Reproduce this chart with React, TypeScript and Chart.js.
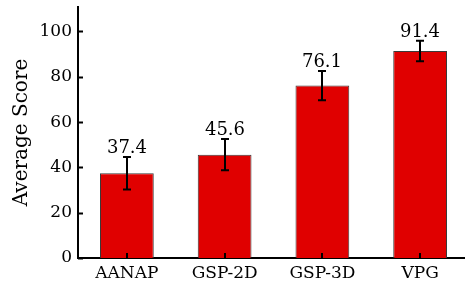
import React, { useEffect, useRef } from "react";
import { Chart, registerables } from "chart.js";

Chart.register(...registerables);

const categories = ["AANAP", "GSP-2D", "GSP-3D", "VPG"];
const scores = [37.4, 45.6, 76.1, 91.4];
const errors = [7.2, 6.9, 6.5, 4.5];
const yTicks = [0, 20, 40, 60, 80, 100];
const yMax = 110.8;

const FONT = "'DejaVu Serif', serif";

const overlay = {
  id: "overlay",
  afterDatasetsDraw(chart: any) {
    const ctx = chart.ctx;
    const xs = chart.scales.x;
    const ys = chart.scales.y;
    const area = chart.chartArea;
    ctx.save();
    // inward tick marks
    ctx.strokeStyle = "#000";
    ctx.lineWidth = 2;
    ctx.beginPath();
    yTicks.forEach((v) => {
      const py = Math.round(ys.getPixelForValue(v)) + 0.5;
      ctx.moveTo(area.left, py);
      ctx.lineTo(area.left + 5, py);
    });
    categories.forEach((_, i) => {
      const px = Math.round(xs.getPixelForValue(i));
      ctx.moveTo(px, area.bottom);
      ctx.lineTo(px, area.bottom - 5);
    });
    ctx.stroke();
    // error bars and value labels
    const meta = chart.getDatasetMeta(0);
    ctx.font = "18px " + FONT;
    ctx.fillStyle = "#000";
    ctx.textAlign = "center";
    ctx.textBaseline = "alphabetic";
    scores.forEach((v, i) => {
      const px = Math.round(meta.data[i].x);
      const top = ys.getPixelForValue(v + errors[i]);
      const bot = ys.getPixelForValue(v - errors[i]);
      ctx.beginPath();
      ctx.lineWidth = 2;
      ctx.moveTo(px, top);
      ctx.lineTo(px, bot);
      ctx.moveTo(px - 4, top);
      ctx.lineTo(px + 4, top);
      ctx.moveTo(px - 4, bot);
      ctx.lineTo(px + 4, bot);
      ctx.stroke();
      ctx.fillText(v.toFixed(1), px, top - 4);
    });
    ctx.restore();
  },
};

export default function App() {
  const ref = useRef<HTMLCanvasElement>(null);
  useEffect(() => {
    document.body.style.margin = "0";
    document.body.style.overflow = "hidden";
    const chart = new Chart(ref.current!, {
      type: "bar",
      data: {
        labels: categories,
        datasets: [
          {
            data: scores,
            backgroundColor: "#e00000",
            borderColor: "#3a3a3a",
            borderWidth: 1,
            categoryPercentage: 1,
            barPercentage: 0.55,
          },
        ],
      },
      options: {
        responsive: false,
        animation: false,
        devicePixelRatio: 1,
        layout: { padding: { top: 7, left: 0, right: 1, bottom: 0 } },
        plugins: { legend: { display: false }, tooltip: { enabled: false } },
        scales: {
          x: {
            offset: true,
            grid: { display: false, drawTicks: false },
            border: { display: true, color: "#000", width: 2 },
            ticks: { color: "#000", font: { family: FONT, size: 17 }, padding: 5 },
            afterFit: (s: any) => {
              s.height = 26;
              s.paddingLeft = 0;
              s.paddingRight = 0;
            },
          },
          y: {
            min: 0,
            max: yMax,
            grid: { display: false, drawTicks: false },
            border: { display: true, color: "#000", width: 2 },
            ticks: { color: "#000", font: { family: FONT, size: 17 }, padding: 6 },
            afterBuildTicks: (s: any) => {
              s.ticks = yTicks.map((v) => ({ value: v }));
            },
            afterFit: (s: any) => {
              s.width = 78;
              s.paddingTop = 0;
              s.paddingBottom = 0;
            },
            title: {
              display: true,
              text: "Average Score",
              color: "#000",
              font: { family: FONT, size: 20 },
              padding: { top: 10, bottom: 0 },
            },
          },
        },
      },
      plugins: [overlay],
    });
    return () => chart.destroy();
  }, []);
  return (
    <div style={{ width: 470, height: 284 }}>
      <canvas ref={ref} width={470} height={284} style={{ display: "block" }} />
    </div>
  );
}
